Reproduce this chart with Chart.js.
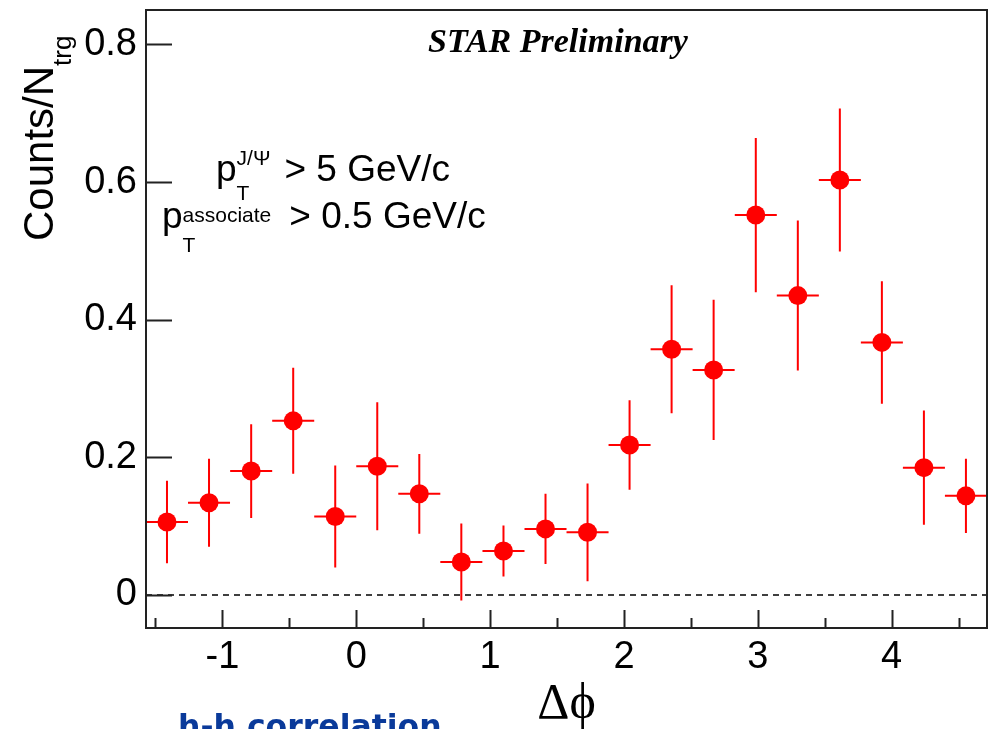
<!DOCTYPE html>
<html>
<head>
<meta charset="utf-8">
<script src="https://cdn.jsdelivr.net/npm/chart.js@4.4.1/dist/chart.umd.min.js"></script>
<style>
  html, body { margin: 0; padding: 0; background: #fff; }
  #wrap { width: 997px; height: 729px; }
</style>
</head>
<body>
<div id="wrap"><canvas id="corr" width="997" height="729"></canvas></div>
<script>
// delta-phi bin centres (20 bins from -pi/2 to 3pi/2)
const dphi = [-1.414, -1.100, -0.785, -0.471, -0.157, 0.157, 0.471, 0.785, 1.100, 1.414,
              1.728, 2.042, 2.356, 2.670, 2.985, 3.299, 3.613, 3.927, 4.241, 4.555];
const counts = [0.106, 0.134, 0.180, 0.253, 0.114, 0.187, 0.147, 0.048, 0.064, 0.096,
                0.091, 0.218, 0.357, 0.327, 0.552, 0.435, 0.603, 0.367, 0.185, 0.144];
const countErr = [0.060, 0.064, 0.068, 0.077, 0.074, 0.093, 0.058, 0.056, 0.037, 0.051,
                  0.071, 0.065, 0.093, 0.102, 0.112, 0.109, 0.104, 0.089, 0.083, 0.054];
const binHalfWidth = 0.157;

const xTicks = [-1, 0, 1, 2, 3, 4];
const xTickLabels = ['-1', '0', '1', '2', '3', '4'];
const xMinorTicks = [-1.5, -0.5, 0.5, 1.5, 2.5, 3.5, 4.5];
const yTicks = [0, 0.2, 0.4, 0.6, 0.8];
const yTickLabels = ['0', '0.2', '0.4', '0.6', '0.8'];

const RED = '#ff0000';
const SANS = '"Liberation Sans", Arial, sans-serif';
const SERIF = '"Liberation Serif", "Times New Roman", serif';

const histPlugin = {
  id: 'histPlugin',
  beforeDatasetsDraw(chart) {
    const { ctx, chartArea: a, scales: { x, y } } = chart;
    ctx.save();
    // dashed line at zero
    ctx.strokeStyle = '#000';
    ctx.lineWidth = 1.5;
    ctx.setLineDash([6, 5]);
    ctx.beginPath();
    ctx.moveTo(a.left, y.getPixelForValue(0));
    ctx.lineTo(a.right, y.getPixelForValue(0));
    ctx.stroke();
    ctx.setLineDash([]);

    // error bars and bin widths
    ctx.strokeStyle = RED;
    ctx.lineWidth = 2;
    dphi.forEach((c, i) => {
      const px = x.getPixelForValue(c);
      const py = y.getPixelForValue(counts[i]);
      ctx.beginPath();
      ctx.moveTo(px, y.getPixelForValue(counts[i] - countErr[i]));
      ctx.lineTo(px, y.getPixelForValue(counts[i] + countErr[i]));
      ctx.moveTo(x.getPixelForValue(c - binHalfWidth), py);
      ctx.lineTo(x.getPixelForValue(c + binHalfWidth), py);
      ctx.stroke();
    });
    ctx.restore();
  },
  afterDraw(chart) {
    const { ctx, chartArea: a, scales: { x, y } } = chart;
    ctx.save();
    // frame
    ctx.strokeStyle = '#222';
    ctx.lineWidth = 2;
    ctx.strokeRect(a.left, a.top, a.right - a.left, a.bottom - a.top);

    // ticks pointing inward
    ctx.beginPath();
    xTicks.forEach(v => {
      const px = Math.round(x.getPixelForValue(v)) + 0.5;
      ctx.moveTo(px, a.bottom); ctx.lineTo(px, a.bottom - 18);
    });
    xMinorTicks.forEach(v => {
      const px = Math.round(x.getPixelForValue(v)) + 0.5;
      ctx.moveTo(px, a.bottom); ctx.lineTo(px, a.bottom - 10);
    });
    yTicks.forEach(v => {
      const py = Math.round(y.getPixelForValue(v)) + 0.5;
      ctx.moveTo(a.left, py); ctx.lineTo(a.left + 26, py);
    });
    ctx.stroke();

    ctx.fillStyle = '#000';
    ctx.textBaseline = 'alphabetic';
    ctx.textAlign = 'left';

    // y-axis title, rotated, with subscript
    ctx.save();
    ctx.translate(53, 241);
    ctx.rotate(-Math.PI / 2);
    ctx.font = '42px ' + SANS;
    ctx.fillText('Counts/N', 0, 0);
    const w = ctx.measureText('Counts/N').width;
    ctx.font = '26px ' + SANS;
    ctx.fillText('trg', w, 18);
    ctx.restore();

    // x-axis title
    ctx.font = '50px ' + SERIF;
    ctx.textAlign = 'center';
    ctx.fillText('\u0394\u03d5', (a.left + a.right) / 2, 718);

    // label in the frame
    ctx.font = 'italic bold 34px ' + SERIF;
    ctx.fillText('STAR Preliminary', 558, 52);

    // kinematic cuts
    ctx.textAlign = 'left';
    let cx = 216;
    ctx.font = '37px ' + SANS;
    ctx.fillText('p', cx, 181);
    cx += ctx.measureText('p').width;
    ctx.font = '21px ' + SANS;
    ctx.fillText('T', cx, 200);
    ctx.fillText('J/\u03a8', cx, 165);
    cx += ctx.measureText('J/\u03a8').width + 14;
    ctx.font = '37px ' + SANS;
    ctx.fillText('> 5 GeV/c', cx, 181);

    cx = 162;
    ctx.fillText('p', cx, 228);
    cx += ctx.measureText('p').width;
    ctx.font = '21px ' + SANS;
    ctx.fillText('T', cx, 252);
    ctx.fillText('associate', cx, 222);
    cx += ctx.measureText('associate').width + 18;
    ctx.font = '37px ' + SANS;
    ctx.fillText('> 0.5 GeV/c', cx, 228);

    // caption running off the bottom edge
    ctx.fillStyle = '#0a3a9a';
    ctx.font = 'bold 31.5px "DejaVu Sans", Verdana, sans-serif';
    ctx.fillText('h-h correlation', 178, 737);
    ctx.restore();
  }
};

new Chart(document.getElementById('corr'), {
  type: 'scatter',
  data: {
    datasets: [{
      data: dphi.map((v, i) => ({ x: v, y: counts[i] })),
      pointRadius: 9.5,
      pointHoverRadius: 9.5,
      pointBackgroundColor: RED,
      pointBorderWidth: 0,
      showLine: false
    }]
  },
  options: {
    responsive: false,
    animation: false,
    devicePixelRatio: 1,
    layout: { padding: { left: 0, top: 10, right: 10, bottom: 0 } },
    plugins: { legend: { display: false }, tooltip: { enabled: false } },
    scales: {
      x: {
        type: 'linear',
        min: -Math.PI / 2,
        max: 3 * Math.PI / 2,
        grid: { display: false, drawTicks: false },
        border: { display: false },
        afterBuildTicks: s => { s.ticks = xTicks.map(v => ({ value: v })); },
        afterFit: s => { s.height = 101; s.paddingLeft = 0; s.paddingRight = 0; },
        ticks: {
          padding: 7,
          color: '#000',
          font: { family: SANS, size: 38 },
          maxRotation: 0,
          callback: (v) => xTickLabels[xTicks.indexOf(v)]
        }
      },
      y: {
        type: 'linear',
        min: -0.048,
        max: 0.85,
        grid: { display: false, drawTicks: false },
        border: { display: false },
        afterBuildTicks: s => { s.ticks = yTicks.map(v => ({ value: v })); },
        afterFit: s => { s.width = 146; s.paddingTop = 0; s.paddingBottom = 0; },
        ticks: {
          padding: 9,
          color: '#000',
          font: { family: SANS, size: 38 },
          callback: (v) => yTickLabels[yTicks.indexOf(v)]
        }
      }
    }
  },
  plugins: [histPlugin]
});
</script>
</body>
</html>
